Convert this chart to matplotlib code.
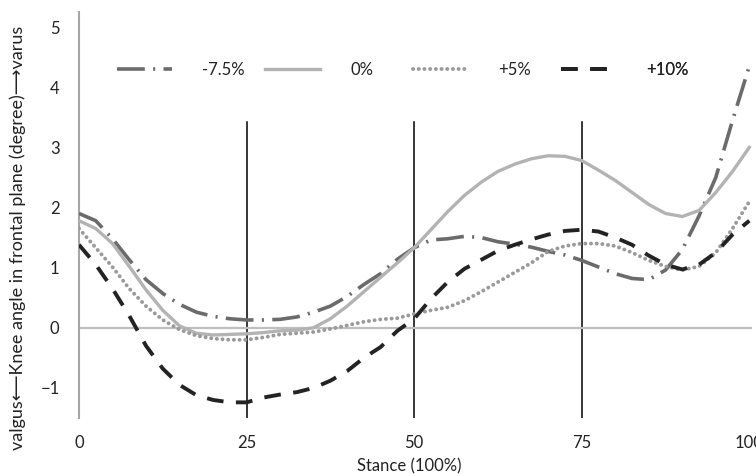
"""
Knee angle in frontal plane over stance, four conditions
"""

import matplotlib
matplotlib.use("Agg")
import numpy as np
import matplotlib.pyplot as plt

plt.rcParams['font.family'] = ['Lato', 'DejaVu Sans']
plt.rcParams['lines.scale_dashes'] = False

# stance (%) sampled every 2.5
stance = np.arange(0, 100.1, 2.5)

knee_m7_5 = [1.90, 1.78, 1.48, 1.13, 0.80, 0.57, 0.39, 0.26, 0.19, 0.15,
             0.13, 0.13, 0.14, 0.18, 0.26, 0.36, 0.52, 0.72, 0.90, 1.14,
             1.33, 1.46, 1.48, 1.52, 1.50, 1.43, 1.39, 1.34, 1.27, 1.21,
             1.12, 1.01, 0.90, 0.82, 0.80, 0.96, 1.30, 1.86, 2.50, 3.45,
             4.35]
knee_0 = [1.78, 1.65, 1.40, 1.02, 0.63, 0.29, 0.03, -0.09, -0.12, -0.11,
          -0.10, -0.08, -0.05, -0.04, 0.00, 0.15, 0.36, 0.60, 0.84, 1.08,
          1.33, 1.63, 1.93, 2.20, 2.42, 2.60, 2.72, 2.81, 2.86, 2.85,
          2.78, 2.62, 2.45, 2.25, 2.05, 1.90, 1.85, 1.95, 2.25, 2.60,
          3.00]
knee_p5 = [1.65, 1.33, 1.01, 0.65, 0.36, 0.13, -0.03, -0.13, -0.18, -0.20,
           -0.20, -0.16, -0.11, -0.09, -0.07, -0.02, 0.04, 0.10, 0.14, 0.16,
           0.23, 0.29, 0.34, 0.45, 0.60, 0.76, 0.92, 1.08, 1.27, 1.36,
           1.40, 1.40, 1.36, 1.25, 1.12, 1.02, 0.96, 1.02, 1.25, 1.65,
           2.10]
knee_p10 = [1.38, 1.05, 0.65, 0.20, -0.30, -0.68, -0.95, -1.12, -1.20, -1.24,
            -1.24, -1.16, -1.11, -1.07, -1.00, -0.88, -0.72, -0.50, -0.32, -0.05,
            0.15, 0.48, 0.76, 0.98, 1.13, 1.28, 1.38, 1.47, 1.55, 1.61,
            1.63, 1.60, 1.50, 1.38, 1.20, 1.05, 0.97, 1.05, 1.25, 1.55,
            1.78]

labels = ['-7.5%', '0%', '+5%', '+10%']
phase_marks = [25, 50, 75]
x_ticks = [0, 25, 50, 75, 100]
y_ticks = [-1, 0, 1, 2, 3, 4, 5]

fig = plt.figure(figsize=(7.56, 4.76), dpi=100)
ax = fig.add_axes([79 / 756, 1 - 418 / 476, 673 / 756, 406 / 476])

# phase lines and zero line
for xm in phase_marks:
    ax.plot([xm, xm], [-1.5, 3.42], color='black', linewidth=1.1, zorder=1)
ax.axhline(0, color='#bfbfbf', linewidth=1.6, zorder=1)

styles = [
    dict(color='#6b6b6b', linewidth=2.6, dashes=(20, 6, 1.5, 6)),
    dict(color='#b3b3b3', linewidth=2.4),
    dict(color='#9a9a9a', linewidth=2.8, dashes=(0.1, 4.0), dash_capstyle='round'),
    dict(color='#232323', linewidth=2.8, dashes=(12, 9)),
]
series = [knee_m7_5, knee_0, knee_p5, knee_p10]
lines = []
for vals, st in zip(series, styles):
    ln, = ax.plot(stance, vals, zorder=3, **st)
    lines.append(ln)

# Excel style legend: equal width entries across the top
for i, (ln, lab) in enumerate(zip(lines, labels)):
    leg = ax.legend([ln], [lab], loc='center left',
                    bbox_to_anchor=(0.0565 + i * 0.22, 0.857),
                    frameon=False, fontsize=12, handlelength=3.3,
                    handletextpad=1.8, borderpad=0, borderaxespad=0)
    for t in leg.get_texts():
        t.set_color('#222222')
    ax.add_artist(leg)

ax.set_xlim(0, 100.4)
ax.set_ylim(-1.5, 5.25)
ax.set_xticks(x_ticks)
ax.set_yticks(y_ticks)
ax.tick_params(axis='both', length=0, labelsize=12, colors='#222222')
ax.tick_params(axis='y', pad=14)
ax.tick_params(axis='x', pad=12)
for side in ['top', 'right', 'bottom']:
    ax.spines[side].set_visible(False)
ax.spines['left'].set_color('#a6a6a6')
ax.spines['left'].set_linewidth(1.5)

fig.text(409 / 756, 1 - 466 / 476, 'Stance (100%)', ha='center', va='center',
         fontsize=12, color='#222222')
fig.text(18 / 756, 1 - 238 / 476,
         'valgus\u27f5Knee angle in frontal plane (degree)\u27f6varus',
         rotation=90, ha='center', va='center', fontsize=13, color='#222222')

plt.savefig('out.png', dpi=100)
plt.close()
